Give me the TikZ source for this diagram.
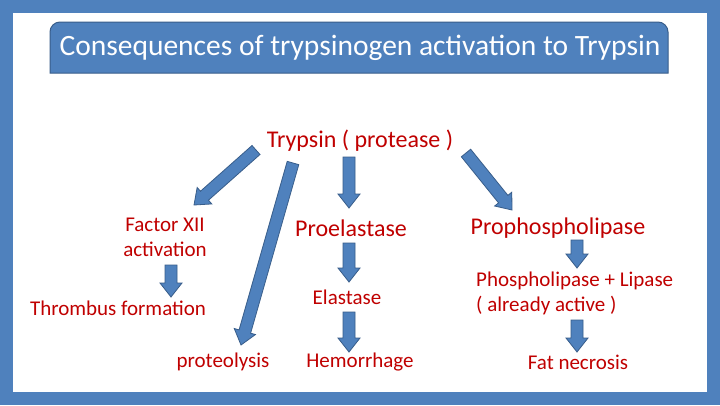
\documentclass[tikz,border=0pt]{standalone}
\usepackage{fontspec}
\setmainfont{Carlito}
\usetikzlibrary{calc}
\definecolor{sb}{HTML}{4F81BD}
\definecolor{sbd}{HTML}{385D8A}
\definecolor{rd}{HTML}{C00000}
\tikzset{lbl/.style={text=rd,inner sep=1pt},
 barr/.style={draw=sbd,fill=sb,line width=0.8pt,line join=miter}}
\newcommand\barrow[3]{\coordinate (#3h) at ($(#2)!14pt!(#1)$);
\draw[barr] ($(#1)!6pt!90:(#2)$) -- ($(#3h)!6pt!-90:(#1)$) -- ($(#3h)!11pt!-90:(#1)$) -- (#2) -- ($(#3h)!11pt!90:(#1)$) -- ($(#3h)!6pt!90:(#1)$) -- ($(#1)!6pt!-90:(#2)$) -- cycle;}
\begin{document}
\begin{tikzpicture}[x=1pt,y=-1pt]
\useasboundingbox (0,0) rectangle (720,405);
\fill[sb] (0,0) rectangle (720,405);
\fill[white] (13,13) rectangle (707,392);
\draw[sbd,fill=sb,line width=1pt] (50,73) [rounded corners=10pt] -- (50,22) -- (668,22) [sharp corners] -- (668,73) -- cycle;
\node[text=white,font=\fontsize{29.5}{33}\selectfont] (title) at (360,48) {Consequences of trypsinogen activation to Trypsin};
\node[lbl,font=\fontsize{24}{28}\selectfont] (tryp) at (360,141) {Trypsin ( protease )};
\node[lbl,font=\fontsize{21}{25}\selectfont,align=center] (fxii) at (165,237) {Factor XII\\activation};
\node[lbl,font=\fontsize{21}{25}\selectfont] (thr) at (118,308) {Thrombus formation};
\node[lbl,font=\fontsize{21}{25}\selectfont] (prot) at (223,362) {proteolysis};
\node[lbl,font=\fontsize{24}{28}\selectfont] (proe) at (351,228) {Proelastase};
\node[lbl,font=\fontsize{21}{25}\selectfont] (ela) at (347,297) {Elastase};
\node[lbl,font=\fontsize{21}{25}\selectfont] (hem) at (360,362) {Hemorrhage};
\node[lbl,font=\fontsize{24}{28}\selectfont] (prop) at (558,228) {Prophospholipase};
\node[lbl,font=\fontsize{21}{25}\selectfont,align=left,anchor=west] (phos) at (475,293) {Phospholipase + Lipase\\( already active )};
\node[lbl,font=\fontsize{21}{25}\selectfont] (fat) at (578,362) {Fat necrosis};
\coordinate (a1) at (256,150); \coordinate (b1) at (194,205);
\coordinate (a2) at (293,163); \coordinate (b2) at (241,345);
\coordinate (a3) at (349,157); \coordinate (b3) at (349,208);
\coordinate (a4) at (466,153); \coordinate (b4) at (512,210);
\coordinate (a5) at (171,265); \coordinate (b5) at (171,297);
\coordinate (a6) at (349,243); \coordinate (b6) at (349,282);
\coordinate (a7) at (349,312); \coordinate (b7) at (349,352);
\coordinate (a8) at (577,240); \coordinate (b8) at (577,268);
\coordinate (a9) at (577,320); \coordinate (b9) at (577,352);
\barrow{a1}{b1}{r1}\barrow{a2}{b2}{r2}\barrow{a3}{b3}{r3}
\barrow{a4}{b4}{r4}\barrow{a5}{b5}{r5}\barrow{a6}{b6}{r6}
\barrow{a7}{b7}{r7}\barrow{a8}{b8}{r8}\barrow{a9}{b9}{r9}
\end{tikzpicture}
\end{document}
